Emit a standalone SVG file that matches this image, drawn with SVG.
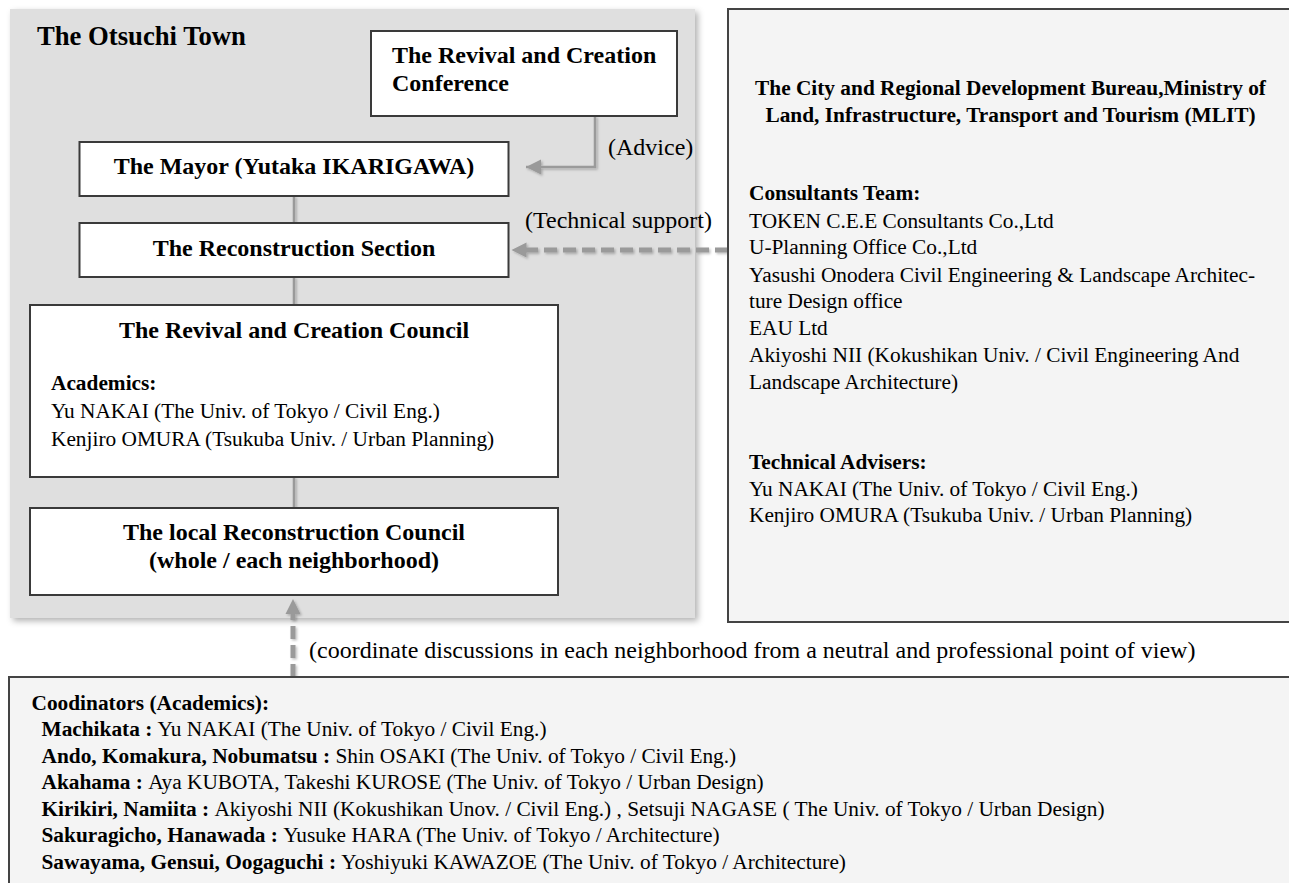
<svg xmlns="http://www.w3.org/2000/svg" width="1289" height="883" viewBox="0 0 1289 883">
<defs>
<style>
text{font-family:"Liberation Serif","Times New Roman",serif;fill:#000}
.h{font-size:24px;font-weight:bold}
.t{font-size:26.67px;font-weight:bold}
.b{font-size:21.33px}
.bb{font-size:21.33px;font-weight:bold}
.lab{font-size:24px}
.box{fill:#fff;stroke:#3a3a3a;stroke-width:2}
.pan{fill:#f4f4f4;stroke:#444;stroke-width:2}
.ln{fill:none;stroke:#9a9a9a;stroke-width:2.5}
.dash{fill:none;stroke:#9a9a9a;stroke-width:5;stroke-dasharray:13 6}
.head{fill:#9a9a9a}
</style>
<filter id="sh" x="-5%" y="-5%" width="110%" height="110%">
<feDropShadow dx="3" dy="3" stdDeviation="3" flood-color="#000" flood-opacity="0.3"/>
</filter>
<filter id="lsh" x="-50%" y="-50%" width="200%" height="200%">
<feDropShadow dx="1.5" dy="1.5" stdDeviation="1.2" flood-color="#000" flood-opacity="0.25"/>
</filter>
<marker id="ah" markerUnits="userSpaceOnUse" markerWidth="16" markerHeight="16" viewBox="0 0 16 16" refX="15" refY="8" orient="auto">
<path d="M0,0.5 L15,8 L0,15.5 Z" fill="#9a9a9a"/>
</marker>
</defs>

<g id="otsuchi-town">
<rect x="10" y="9" width="685" height="609" fill="#dfdfdf" filter="url(#sh)"/>
<text class="t" x="37" y="45">The Otsuchi Town</text>
</g>

<g id="connectors" filter="url(#lsh)">
<line class="ln" x1="294" y1="196" x2="294" y2="223"/>
<line class="ln" x1="294" y1="277" x2="294" y2="305"/>
<line class="ln" x1="294" y1="477" x2="294" y2="508"/>
<path class="ln" d="M595,116 V167 H526" marker-end="url(#ah)"/>
<path class="dash" d="M728,250 H526"/>
<path class="head" d="M511.5,250 L526.5,242.5 L526.5,257.5 Z"/>
<path class="dash" d="M293,677 V613"/>
<path class="head" d="M293,599 L285.5,614 L300.5,614 Z"/>
</g>
<g id="connector-labels">
<text class="lab" x="608" y="155">(Advice)</text>
<text class="lab" x="525" y="228">(Technical support)</text>
<text class="lab" x="309" y="658">(coordinate discussions in each neighborhood from a neutral and professional point of view)</text>
</g>

<g id="conference">
<rect class="box" x="371" y="31" width="306" height="85"/>
<text class="h" x="392" y="63">The Revival and Creation</text>
<text class="h" x="392" y="91">Conference</text>
</g>

<g id="mayor">
<rect class="box" x="79.5" y="142" width="429" height="54"/>
<text class="h" x="294" y="174" text-anchor="middle">The Mayor (Yutaka IKARIGAWA)</text>
</g>

<g id="reconstruction-section">
<rect class="box" x="79.5" y="223" width="429" height="54"/>
<text class="h" x="294" y="256" text-anchor="middle">The Reconstruction Section</text>
</g>

<g id="revival-council">
<rect class="box" x="30" y="305" width="528" height="172"/>
<text class="h" x="294" y="338" text-anchor="middle">The Revival and Creation Council</text>
<text class="bb" x="51" y="390">Academics:</text>
<text class="b" x="51" y="417.5">Yu NAKAI (The Univ. of Tokyo / Civil Eng.)</text>
<text class="b" x="51" y="445.5">Kenjiro OMURA (Tsukuba Univ. / Urban Planning)</text>
</g>

<g id="local-council">
<rect class="box" x="30" y="508" width="528" height="87"/>
<text class="h" x="294" y="540" text-anchor="middle">The local Reconstruction Council</text>
<text class="h" x="294" y="568" text-anchor="middle">(whole / each neighborhood)</text>
</g>

<g id="mlit">
<rect class="pan" x="728" y="9" width="570" height="613"/>
<text class="bb" x="1010.5" y="95" text-anchor="middle">The City and Regional Development Bureau,Ministry of</text>
<text class="bb" x="1010.5" y="121.7" text-anchor="middle">Land, Infrastructure, Transport and Tourism (MLIT)</text>
<text class="bb" x="749" y="200.3">Consultants Team:</text>
<text class="b" x="749" y="227.7">TOKEN C.E.E Consultants Co.,Ltd</text>
<text class="b" x="749" y="254.3">U-Planning Office Co.,Ltd</text>
<text class="b" x="749" y="281.7">Yasushi Onodera Civil Engineering &amp; Landscape Architec-</text>
<text class="b" x="749" y="308.3">ture Design office</text>
<text class="b" x="749" y="335">EAU Ltd</text>
<text class="b" x="749" y="362">Akiyoshi NII (Kokushikan Univ. / Civil Engineering And</text>
<text class="b" x="749" y="388.7">Landscape Architecture)</text>
<text class="bb" x="749" y="468.8">Technical Advisers:</text>
<text class="b" x="749" y="495.5">Yu NAKAI (The Univ. of Tokyo / Civil Eng.)</text>
<text class="b" x="749" y="522.2">Kenjiro OMURA (Tsukuba Univ. / Urban Planning)</text>
</g>

<g id="coordinators">
<rect class="pan" x="9" y="677" width="1300" height="220"/>
<text class="bb" x="31.5" y="709.5">Coodinators (Academics):</text>
<text class="b" x="41.5" y="736"><tspan font-weight="bold">Machikata : </tspan>Yu NAKAI (The Univ. of Tokyo / Civil Eng.)</text>
<text class="b" x="41.5" y="762.5"><tspan font-weight="bold">Ando, Komakura, Nobumatsu : </tspan>Shin OSAKI (The Univ. of Tokyo / Civil Eng.)</text>
<text class="b" x="41.5" y="789"><tspan font-weight="bold">Akahama : </tspan>Aya KUBOTA, Takeshi KUROSE (The Univ. of Tokyo / Urban Design)</text>
<text class="b" x="41.5" y="815.5"><tspan font-weight="bold">Kirikiri, Namiita : </tspan>Akiyoshi NII (Kokushikan Unov. / Civil Eng.) , Setsuji NAGASE ( The Univ. of Tokyo / Urban Design)</text>
<text class="b" x="41.5" y="842"><tspan font-weight="bold">Sakuragicho, Hanawada : </tspan>Yusuke HARA (The Univ. of Tokyo / Architecture)</text>
<text class="b" x="41.5" y="868.5"><tspan font-weight="bold">Sawayama, Gensui, Oogaguchi : </tspan>Yoshiyuki KAWAZOE (The Univ. of Tokyo / Architecture)</text>
</g>
</svg>
